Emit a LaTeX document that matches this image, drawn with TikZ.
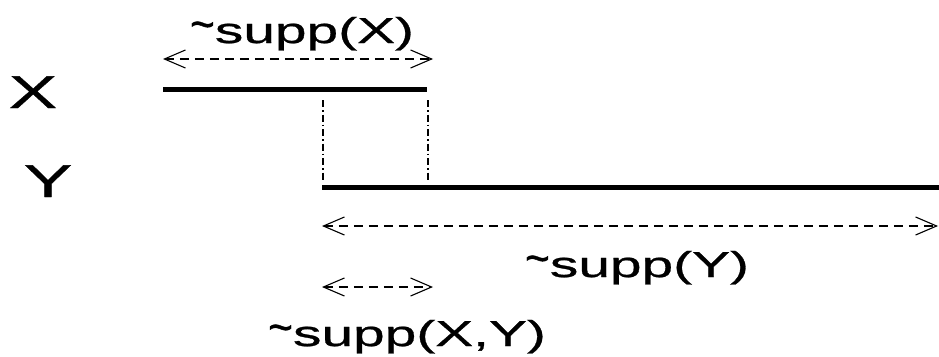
\documentclass[tikz,border=0pt]{standalone}
\usepackage{fontspec}
\newfontfamily\labfont[FakeStretch=1.58,FakeBold=0.8]{Liberation Sans}
\usetikzlibrary{arrows.meta}
\newcommand{\tld}{\raisebox{3pt}{\scalebox{0.75}[1.3]{\char`\~}}}
\tikzset{
  txt/.style={inner sep=0pt, anchor=base, font=\labfont\fontsize{36}{40}\selectfont},
  varname/.style={inner sep=0pt, anchor=base, font=\labfont\fontsize{46}{50}\selectfont},
  bar/.style={line width=5pt, line cap=butt},
  guide/.style={line width=1.3pt, dash pattern=on 7pt off 3pt on 1.5pt off 3pt},
  span/.style={line width=1.1pt, dash pattern=on 9pt off 6pt,
    {Straight Barb[length=21pt,width=18pt,line width=1.1pt]}-{Straight Barb[length=21pt,width=18pt,line width=1.1pt]}}
}
\begin{document}
\begin{tikzpicture}[x=1pt, y=-1pt]
\useasboundingbox (0,0) rectangle (939,356);
% variable names
\node[varname] (lx) at (33,108) {X};
\node[varname] (ly) at (48,197) {Y};
% support bars
\coordinate (xs) at (163,89);
\coordinate (xe) at (427,89);
\coordinate (ys) at (322,187);
\coordinate (ye) at (939,187);
\draw[bar] (xs) -- (xe);
\draw[bar] (ys) -- (ye);
% guides
\coordinate (g1t) at (323,100);
\coordinate (g1b) at (323,180);
\coordinate (g2t) at (428,100);
\coordinate (g2b) at (428,180);
\draw[guide] (g1t) -- (g1b);
\draw[guide] (g2t) -- (g2b);
% spans
\coordinate (ax1) at (163,59);
\coordinate (ax2) at (433,59);
\draw[span] (ax1) -- (ax2);
\coordinate (ay1) at (322,226);
\coordinate (ay2) at (938,226);
\draw[span] (ay1) -- (ay2);
\coordinate (axy1) at (322,287);
\coordinate (axy2) at (433,287);
\draw[span] (axy1) -- (axy2);
% labels
\node[txt] (tx) at (302,43) {\tld supp(X)};
\node[txt] (ty) at (637,277) {\tld supp(Y)};
\node[txt] (txy) at (407,346) {\tld supp(X,Y)};
\end{tikzpicture}
\end{document}
